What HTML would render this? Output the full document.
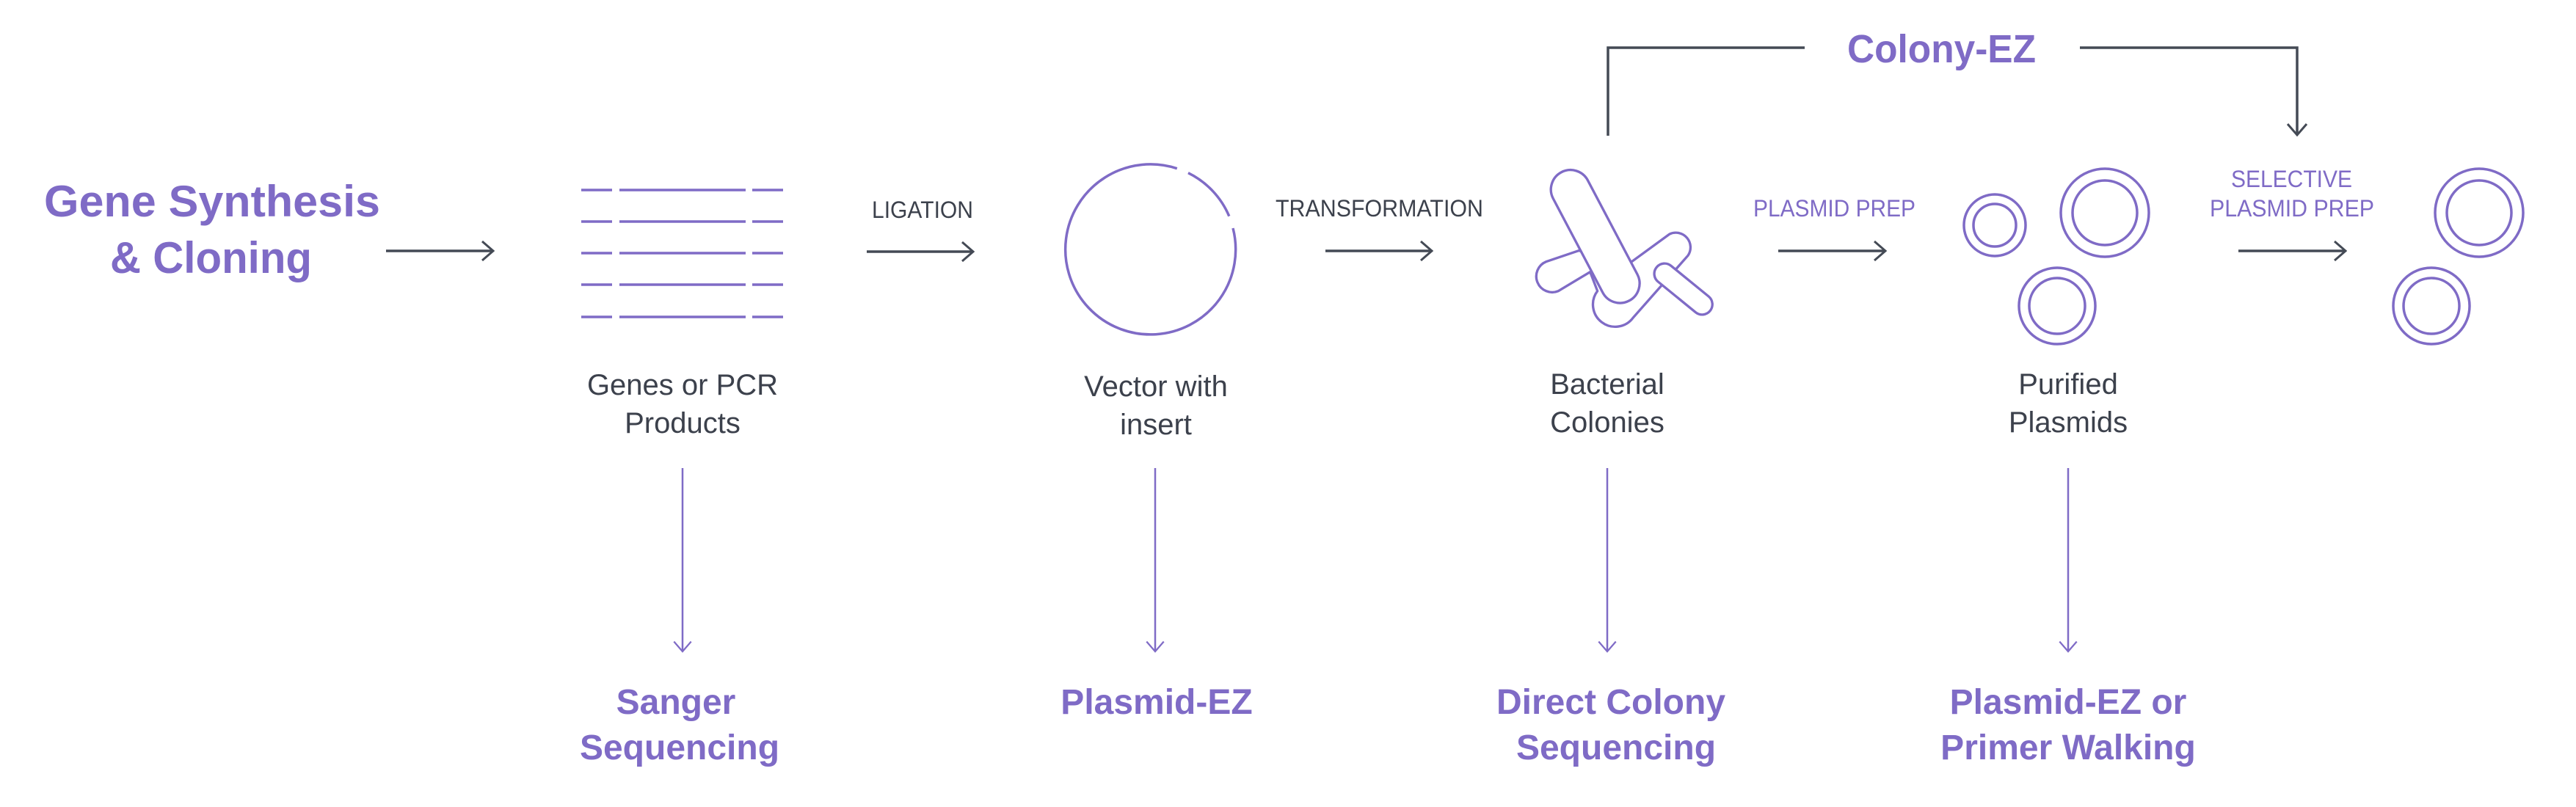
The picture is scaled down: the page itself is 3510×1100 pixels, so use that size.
<!DOCTYPE html>
<html><head><meta charset="utf-8"><style>html,body{margin:0;padding:0;background:#fff}svg{display:block}</style></head>
<body>
<svg width="3510" height="1100" viewBox="0 0 3510 1100" xmlns="http://www.w3.org/2000/svg">
<defs>
<marker id="ag" viewBox="0 0 20 30" refX="18" refY="15" markerWidth="20" markerHeight="30" markerUnits="userSpaceOnUse" orient="auto"><path d="M3,2 L18,15 L3,28" fill="none" stroke="#444a55" stroke-width="3"/></marker>
<marker id="ap" viewBox="0 0 20 30" refX="18" refY="15" markerWidth="18" markerHeight="28" markerUnits="userSpaceOnUse" orient="auto"><path d="M3,2 L18,15 L3,28" fill="none" stroke="#7f6bc6" stroke-width="2.5"/></marker>
</defs>
<g font-family="Liberation Sans, sans-serif">
<text x="60" y="295" font-size="60" font-weight="bold" fill="#7f6bc6" textLength="458" lengthAdjust="spacingAndGlyphs">Gene Synthesis</text>
<text x="150" y="372" font-size="60" font-weight="bold" fill="#7f6bc6" textLength="275" lengthAdjust="spacingAndGlyphs">&amp; Cloning</text>

<g stroke="#444a55" stroke-width="3.5" fill="none">
<line x1="526" y1="342" x2="672" y2="342" marker-end="url(#ag)"/>
<line x1="1181" y1="343" x2="1326" y2="343" marker-end="url(#ag)"/>
<line x1="1806" y1="342" x2="1951" y2="342" marker-end="url(#ag)"/>
<line x1="2423" y1="342" x2="2569" y2="342" marker-end="url(#ag)"/>
<line x1="3050" y1="342" x2="3196" y2="342" marker-end="url(#ag)"/>
<polyline points="2191,185 2191,65 2459,65"/>
<polyline points="2834,65 3130,65 3130,184" marker-end="url(#ag)"/>
</g>

<text x="1188" y="297" font-size="32" fill="#3c414c" textLength="138" lengthAdjust="spacingAndGlyphs">LIGATION</text>
<text x="1738" y="295" font-size="32" fill="#3c414c" textLength="283" lengthAdjust="spacingAndGlyphs">TRANSFORMATION</text>
<text x="2389" y="295" font-size="32" fill="#7f6bc6" textLength="221" lengthAdjust="spacingAndGlyphs">PLASMID PREP</text>
<text x="3040" y="255" font-size="32" fill="#7f6bc6" textLength="165" lengthAdjust="spacingAndGlyphs">SELECTIVE</text>
<text x="3011" y="295" font-size="32" fill="#7f6bc6" textLength="224" lengthAdjust="spacingAndGlyphs">PLASMID PREP</text>
<text x="2517" y="85" font-size="54" font-weight="bold" fill="#7f6bc6" textLength="257" lengthAdjust="spacingAndGlyphs">Colony-EZ</text>

<g stroke="#7f6bc6" stroke-width="3.5">
<g id="gl"><line x1="792" y1="259" x2="834" y2="259"/><line x1="844" y1="259" x2="1016" y2="259"/><line x1="1025" y1="259" x2="1067" y2="259"/></g>
<use href="#gl" y="43"/><use href="#gl" y="86"/><use href="#gl" y="129"/><use href="#gl" y="173"/>
</g>

<g fill="none" stroke="#7f6bc6" stroke-width="3.5">
<path d="M 1680.0,311.0 A 116,116 0 1 1 1603.8,229.7"/>
<path d="M 1619.0,235.7 A 116,116 0 0 1 1674.8,294.7"/>
</g>

<g transform="translate(2080,200) scale(0.33333)" fill="#fff" stroke="#7f6bc6" stroke-width="10" stroke-linejoin="round">
<path d="M80,470 L213,425 L430,470 L585,357 A60,60 0 0 1 660,445 L435,700 A85,85 0 0 1 290,590 L260,512 L130,590 A62,62 0 0 1 80,470 Z"/>
<rect x="-297" y="-80" width="594" height="160" rx="80" transform="translate(281,367) rotate(62.2)"/>
<rect x="-141" y="-42" width="282" height="84" rx="42" transform="translate(641,582) rotate(39.2)"/>
</g>

<g fill="none" stroke="#7f6bc6" stroke-width="3.5">
<circle cx="2718" cy="307" r="42"/><circle cx="2718" cy="307" r="29"/>
<circle cx="2868" cy="290" r="60"/><circle cx="2868" cy="290" r="44"/>
<circle cx="2803" cy="417" r="52"/><circle cx="2803" cy="417" r="38"/>
<circle cx="3378" cy="290" r="60"/><circle cx="3378" cy="290" r="44"/>
<circle cx="3313" cy="417" r="52"/><circle cx="3313" cy="417" r="38"/>
</g>

<g font-size="40" fill="#3c414c" text-anchor="middle">
<text x="930" y="538">Genes or PCR</text><text x="930" y="590">Products</text>
<text x="1575" y="540">Vector with</text><text x="1575" y="592">insert</text>
<text x="2190" y="537">Bacterial</text><text x="2190" y="589">Colonies</text>
<text x="2818" y="537">Purified</text><text x="2818" y="589">Plasmids</text>
</g>

<g stroke="#7f6bc6" stroke-width="2.5">
<line x1="930" y1="638" x2="930" y2="888" marker-end="url(#ap)"/>
<line x1="1574" y1="638" x2="1574" y2="888" marker-end="url(#ap)"/>
<line x1="2190" y1="638" x2="2190" y2="888" marker-end="url(#ap)"/>
<line x1="2818" y1="638" x2="2818" y2="888" marker-end="url(#ap)"/>
</g>

<g font-size="48" font-weight="bold" fill="#7f6bc6" text-anchor="middle">
<text x="921" y="973">Sanger</text><text x="926" y="1035">Sequencing</text>
<text x="1576" y="973">Plasmid-EZ</text>
<text x="2195" y="973">Direct Colony</text><text x="2202" y="1035">Sequencing</text>
<text x="2818" y="973">Plasmid-EZ or</text><text x="2818" y="1035">Primer Walking</text>
</g>
</g>
</svg>
</body></html>
